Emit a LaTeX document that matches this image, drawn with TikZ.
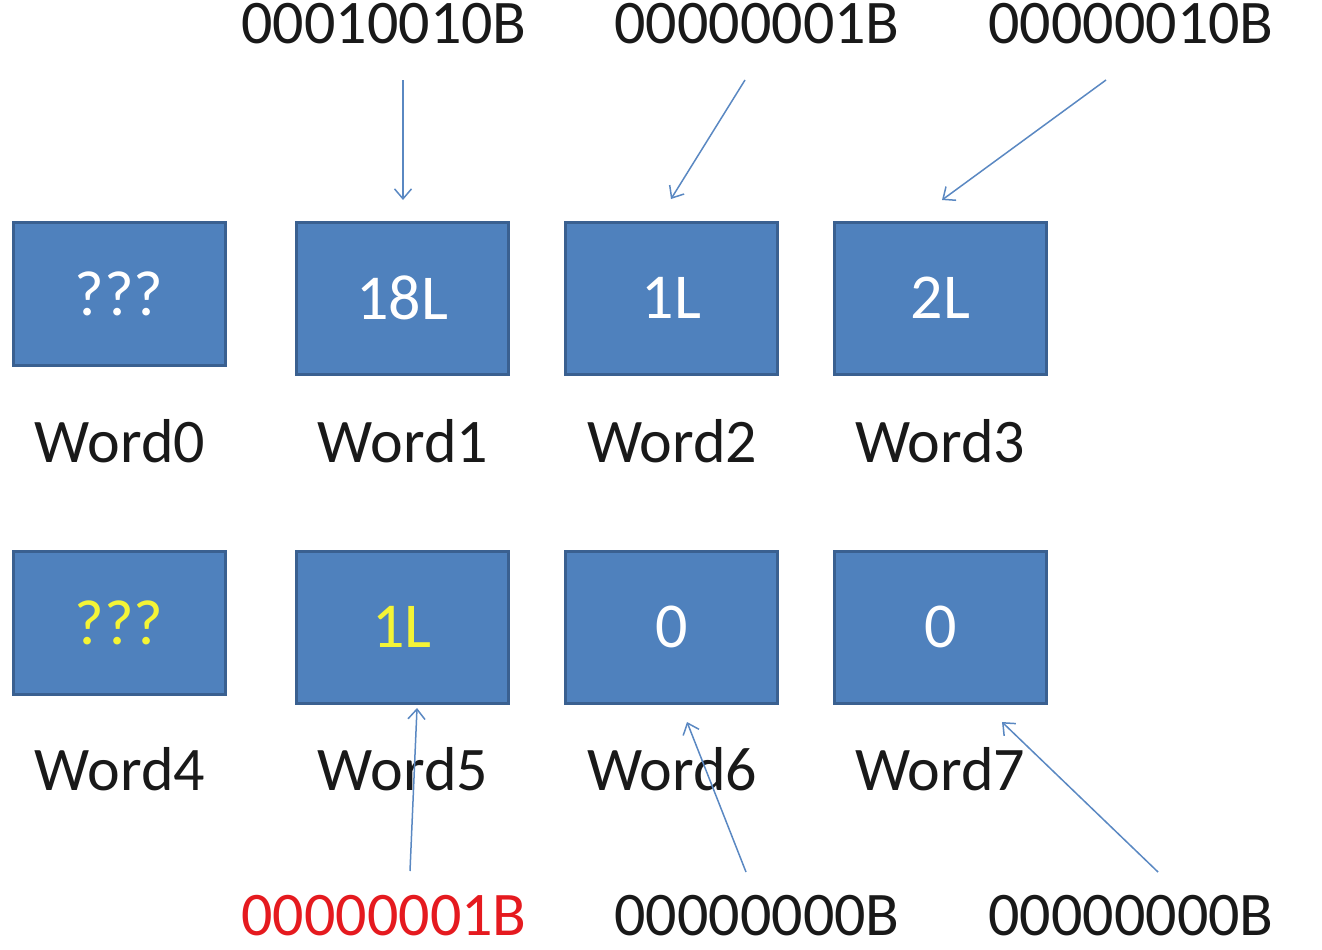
\documentclass[tikz,border=0pt]{standalone}
\usepackage{fontspec}
\setmainfont{Carlito}
\usetikzlibrary{arrows.meta}
\definecolor{cellfill}{HTML}{4F81BD}
\definecolor{celledge}{HTML}{3A6090}
\definecolor{ptr}{HTML}{5A88C2}
\definecolor{hired}{HTML}{E51A1F}
\definecolor{hiyellow}{HTML}{F4F436}
\begin{document}
\begin{tikzpicture}[x=1pt,y=-1pt,
  cell/.style={draw=celledge, line width=3pt, fill=cellfill, text=white,
    inner sep=0pt, minimum width=212pt, minimum height=152pt,
    font=\fontsize{64}{72}\selectfont},
  cellshort/.style={cell, minimum height=143pt},
  lbl/.style={anchor=base, inner sep=0pt, text=black!90,
    font=\fontsize{62}{72}\selectfont},
  ptrarrow/.style={draw=ptr, line width=1.5pt,
    -{Straight Barb[length=10pt,width=17pt,line width=1.5pt]}}]
\useasboundingbox (0,0) rectangle (1322,950);

% memory words, first row
\node[cellshort] (w0) at (119,293.5) {???};
\node[cell] (w1) at (402,298) {18L};
\node[cell] (w2) at (671.5,298) {1L};
\node[cell] (w3) at (940.5,298) {2L};
% memory words, second row
\node[cellshort, text=hiyellow] (w4) at (119,622.5) {???};
\node[cell, text=hiyellow] (w5) at (402,627) {1L};
\node[cell] (w6) at (671.5,627) {0};
\node[cell] (w7) at (940.5,627) {0};

% word names
\node[lbl] (n0) at (120,462) {Word0};
\node[lbl] (n1) at (403,462) {Word1};
\node[lbl] (n2) at (672,462) {Word2};
\node[lbl] (n3) at (940,462) {Word3};
\node[lbl] (n4) at (120,790) {Word4};
\node[lbl] (n5) at (403,790) {Word5};
\node[lbl] (n6) at (672,790) {Word6};
\node[lbl] (n7) at (940,790) {Word7};

% binary values written into the words
\node[lbl] (b1) at (384,44) {00010010B};
\node[lbl] (b2) at (757,44) {00000001B};
\node[lbl] (b3) at (1131,44) {00000010B};
\node[lbl, text=hired] (b5) at (384,935) {00000001B};
\node[lbl] (b6) at (757,935) {00000000B};
\node[lbl] (b7) at (1131,935) {00000000B};

% arrow end points
\coordinate (s1) at (403,80);   \coordinate (e1) at (403,200);
\coordinate (s2) at (745,80);   \coordinate (e2) at (671,199);
\coordinate (s3) at (1106,80);  \coordinate (e3) at (942,200);
\coordinate (s5) at (410,871);  \coordinate (e5) at (417,708);
\coordinate (s6) at (746,872);  \coordinate (e6) at (687,722);
\coordinate (s7) at (1158,872); \coordinate (e7) at (1002,722);

\draw[ptrarrow] (s1) -- (e1);
\draw[ptrarrow] (s2) -- (e2);
\draw[ptrarrow] (s3) -- (e3);
\draw[ptrarrow] (s5) -- (e5);
\draw[ptrarrow] (s6) -- (e6);
\draw[ptrarrow] (s7) -- (e7);
\end{tikzpicture}
\end{document}
